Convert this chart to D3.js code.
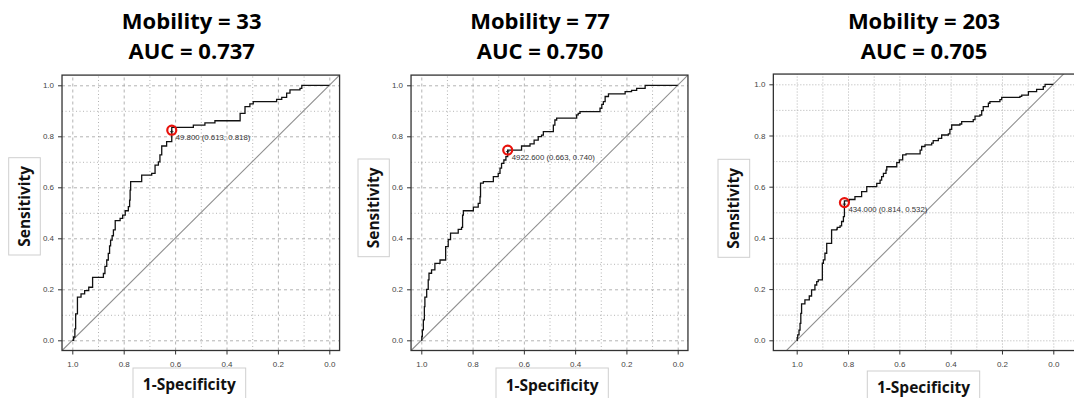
<!DOCTYPE html>
<html>
<head>
<meta charset="utf-8">
<script src="https://cdn.jsdelivr.net/npm/d3@7"></script>
<style>
  body { margin: 0; background: #fff; }
  svg { display: block; }
  .title { font-family: "Open Sans", Lato, sans-serif; font-weight: 700; font-size: 22px; fill: #000; text-anchor: middle; }
  .axis text { font-family: "Liberation Sans", Arial, sans-serif; font-size: 8px; fill: #444; }
  .axis line { stroke: #333; }
  .axis path, .grid path { display: none; }
  .grid line { stroke: #aaa; stroke-width: 0.9; }
  .lab { font-family: "Open Sans", Lato, sans-serif; font-weight: 700; font-size: 15.5px; fill: #111; text-anchor: middle; }
  .lab-box { fill: #fff; stroke: #cfcfcf; }
  .frame { fill: none; stroke: #333; stroke-width: 1.3; }
  .roc { fill: none; stroke: #111; stroke-width: 1.3; }
  .diag { stroke: #8f8f8f; stroke-width: 1.1; }
  .best { fill: none; stroke: #e8120c; stroke-width: 2.2; }
  .best-cross { stroke: #111; stroke-width: 0.8; }
  .best-label { font-family: "Liberation Sans", Arial, sans-serif; font-size: 7.8px; fill: #333; }
</style>
</head>
<body>
<div id="chart"></div>
<script>
// [specificity, sensitivity] at the left end of each horizontal run
const roc33 = [
  [1.000, 0.000], [0.995, 0.013], [0.990, 0.045], [0.987, 0.104], [0.980, 0.169], [0.966, 0.182],
  [0.952, 0.195], [0.936, 0.208], [0.921, 0.247], [0.879, 0.262], [0.873, 0.290], [0.866, 0.315],
  [0.860, 0.341], [0.855, 0.370], [0.851, 0.393], [0.845, 0.410], [0.840, 0.433], [0.833, 0.469],
  [0.814, 0.478], [0.804, 0.491], [0.794, 0.508], [0.782, 0.524], [0.777, 0.550], [0.775, 0.589],
  [0.773, 0.622], [0.730, 0.648], [0.691, 0.655], [0.678, 0.687], [0.665, 0.700], [0.659, 0.727],
  [0.652, 0.762], [0.633, 0.779], [0.613, 0.835], [0.529, 0.844], [0.484, 0.853], [0.445, 0.861],
  [0.347, 0.890], [0.328, 0.916], [0.309, 0.927], [0.296, 0.936], [0.205, 0.945], [0.185, 0.953],
  [0.166, 0.969], [0.153, 0.982], [0.114, 0.988], [0.107, 1.000], [0.000, 1.000]
]

const roc77 = [
  [1.000, 0.000], [0.998, 0.015], [0.996, 0.041], [0.992, 0.080], [0.988, 0.132], [0.986, 0.169],
  [0.979, 0.200], [0.973, 0.237], [0.970, 0.263], [0.960, 0.276], [0.947, 0.302], [0.927, 0.315],
  [0.905, 0.367], [0.895, 0.395], [0.886, 0.420], [0.856, 0.435], [0.843, 0.443], [0.839, 0.491],
  [0.836, 0.508], [0.797, 0.522], [0.778, 0.537], [0.771, 0.563], [0.769, 0.616], [0.758, 0.622],
  [0.719, 0.642], [0.700, 0.655], [0.693, 0.675], [0.687, 0.694], [0.678, 0.707], [0.670, 0.720],
  [0.663, 0.746], [0.609, 0.762], [0.576, 0.770], [0.560, 0.785], [0.544, 0.799], [0.531, 0.805],
  [0.524, 0.818], [0.485, 0.844], [0.479, 0.864], [0.472, 0.871], [0.394, 0.884], [0.388, 0.890],
  [0.381, 0.897], [0.303, 0.910], [0.296, 0.925], [0.290, 0.936], [0.283, 0.956], [0.270, 0.966],
  [0.205, 0.975], [0.180, 0.980], [0.160, 0.988], [0.127, 1.000], [0.000, 1.000]
]

const roc203 = [
  [1.000, 0.000], [0.998, 0.010], [0.996, 0.021], [0.991, 0.040], [0.987, 0.066], [0.984, 0.105],
  [0.981, 0.142], [0.968, 0.158], [0.951, 0.173], [0.942, 0.197], [0.929, 0.216], [0.922, 0.229],
  [0.916, 0.236], [0.900, 0.301], [0.896, 0.314], [0.890, 0.340], [0.883, 0.379], [0.864, 0.431],
  [0.844, 0.434], [0.842, 0.441], [0.831, 0.447], [0.825, 0.464], [0.818, 0.483], [0.814, 0.545],
  [0.795, 0.550], [0.773, 0.561], [0.747, 0.581], [0.727, 0.600], [0.688, 0.613], [0.675, 0.626],
  [0.669, 0.639], [0.662, 0.652], [0.652, 0.665], [0.649, 0.678], [0.610, 0.694], [0.600, 0.705],
  [0.587, 0.724], [0.574, 0.728], [0.519, 0.743], [0.513, 0.757], [0.500, 0.763], [0.474, 0.770],
  [0.468, 0.780], [0.448, 0.789], [0.435, 0.802], [0.409, 0.806], [0.403, 0.824], [0.396, 0.841],
  [0.364, 0.845], [0.357, 0.854], [0.312, 0.862], [0.305, 0.876], [0.286, 0.880], [0.279, 0.897],
  [0.273, 0.913], [0.253, 0.926], [0.247, 0.932], [0.208, 0.940], [0.201, 0.949], [0.130, 0.953],
  [0.123, 0.958], [0.097, 0.971], [0.065, 0.980], [0.039, 0.991], [0.032, 1.000], [0.000, 1.000]
]

const mobility = [33, 77, 203]
const auc = [0.737, 0.750, 0.705]
const thresholds = [49.8, 4922.6, 434.0]
const bestSpec = [0.613, 0.663, 0.814]
const bestSens = [0.818, 0.740, 0.532]
const tickValues = [0, 0.2, 0.4, 0.6, 0.8, 1.0]
const minorValues = [0.1, 0.3, 0.5, 0.7, 0.9]

const curves = [roc33, roc77, roc203]

// where each small plot sits on the page
const panels = [
  { xr: [72.3, 329.3], yr: [340.3, 85.3], padX: 0.04, titleX: 191.7, majorDash: '3,3', minorDash: '1,2.5',
    sensBox: [8.7, 157.7, 31.6, 97.3], specBox: [133, 368, 112.7, 40], specY: 390 },
  { xr: [421.3, 677.7], yr: [340.3, 85.3], padX: 0.04, titleX: 540, majorDash: '3,3', minorDash: '1,2.5',
    sensBox: [358, 159, 31.3, 97.7], specBox: [496, 368, 112.3, 40], specY: 390.5 },
  { xr: [796.7, 1053.3], yr: [340.3, 84.3], padX: 0.091, titleX: 924, majorDash: '1,2', minorDash: '1,2',
    sensBox: [718, 159.3, 31.7, 98], specBox: [867.3, 371, 112.4, 40], specY: 393 }
]
const padY = 0.04

const svg = d3.select('#chart').append('svg')
  .attr('width', 1074)
  .attr('height', 398)

panels.forEach((p, i) => {
  const x = d3.scaleLinear().domain([1, 0]).range(p.xr)
  const y = d3.scaleLinear().domain([0, 1]).range(p.yr)

  const left = x(1 + p.padX)
  const right = x(-p.padX)
  const top = y(1 + padY)
  const bottom = y(-padY)

  const g = svg.append('g')

  g.append('clipPath').attr('id', 'clip' + i)
    .append('rect')
    .attr('x', left).attr('y', top)
    .attr('width', right - left).attr('height', bottom - top)

  // grid, major and minor
  const gridV = (vals, dash) => g.append('g')
    .attr('class', 'grid')
    .attr('transform', 'translate(0,' + bottom + ')')
    .call(d3.axisBottom(x).tickValues(vals).tickSize(-(bottom - top)).tickFormat(''))
    .selectAll('line').attr('stroke-dasharray', dash)
  const gridH = (vals, dash) => g.append('g')
    .attr('class', 'grid')
    .attr('transform', 'translate(' + left + ',0)')
    .call(d3.axisLeft(y).tickValues(vals).tickSize(-(right - left)).tickFormat(''))
    .selectAll('line').attr('stroke-dasharray', dash)
  gridV(minorValues, p.minorDash)
  gridH(minorValues, p.minorDash)
  gridV(tickValues, p.majorDash)
  gridH(tickValues, p.majorDash)

  // reference line sens = 1 - spec
  const diagEnds = [1 + p.padX, -p.padX - 0.1].map(s => [s, 1 - s])
  g.append('line')
    .attr('class', 'diag')
    .attr('clip-path', 'url(#clip' + i + ')')
    .attr('x1', x(diagEnds[0][0])).attr('y1', y(diagEnds[0][1]))
    .attr('x2', x(diagEnds[1][0])).attr('y2', y(diagEnds[1][1]))

  const line = d3.line()
    .x(d => x(d[0]))
    .y(d => y(d[1]))
    .curve(d3.curveStepAfter)

  g.append('path')
    .datum(curves[i])
    .attr('class', 'roc')
    .attr('clip-path', 'url(#clip' + i + ')')
    .attr('d', line)

  g.append('rect')
    .attr('class', 'frame')
    .attr('x', left).attr('y', top)
    .attr('width', right - left).attr('height', bottom - top)

  g.append('g')
    .attr('class', 'axis')
    .attr('transform', 'translate(' + left + ',0)')
    .call(d3.axisLeft(y).tickValues(tickValues).tickSize(4).tickPadding(4).tickFormat(d3.format('.1f')))

  g.append('g')
    .attr('class', 'axis')
    .attr('transform', 'translate(0,' + bottom + ')')
    .call(d3.axisBottom(x).tickValues(tickValues).tickSize(4).tickPadding(7).tickFormat(d3.format('.1f')))

  // best threshold
  const bx = x(bestSpec[i])
  const by = y(bestSens[i])
  g.append('path')
    .attr('class', 'best-cross')
    .attr('d', 'M' + (bx - 1.8) + ',' + by + 'h3.6M' + bx + ',' + (by - 1.8) + 'v3.6')
  g.append('circle')
    .attr('class', 'best')
    .attr('cx', bx).attr('cy', by - 1.5)
    .attr('r', 4.5)
  g.append('text')
    .attr('class', 'best-label')
    .attr('x', bx + 4)
    .attr('y', by + 8)
    .text(thresholds[i].toFixed(3) + ' (' + bestSpec[i].toFixed(3) + ', ' + bestSens[i].toFixed(3) + ')')

  // titles
  g.append('text').attr('class', 'title')
    .attr('x', p.titleX).attr('y', 29.3)
    .text('Mobility = ' + mobility[i])
  g.append('text').attr('class', 'title')
    .attr('x', p.titleX).attr('y', 59.3)
    .text('AUC = ' + auc[i].toFixed(3))

  // axis label boxes
  const sb = p.sensBox
  g.append('rect').attr('class', 'lab-box')
    .attr('x', sb[0]).attr('y', sb[1]).attr('width', sb[2]).attr('height', sb[3])
  g.append('text').attr('class', 'lab')
    .attr('transform', 'translate(' + (sb[0] + sb[2] / 2 + 5.5) + ',' + (sb[1] + sb[3] / 2) + ') rotate(-90)')
    .text('Sensitivity')

  const cb = p.specBox
  g.append('rect').attr('class', 'lab-box')
    .attr('x', cb[0]).attr('y', cb[1]).attr('width', cb[2]).attr('height', cb[3])
  g.append('text').attr('class', 'lab')
    .attr('x', cb[0] + cb[2] / 2).attr('y', p.specY)
    .text('1-Specificity')
})
</script>
</body>
</html>
